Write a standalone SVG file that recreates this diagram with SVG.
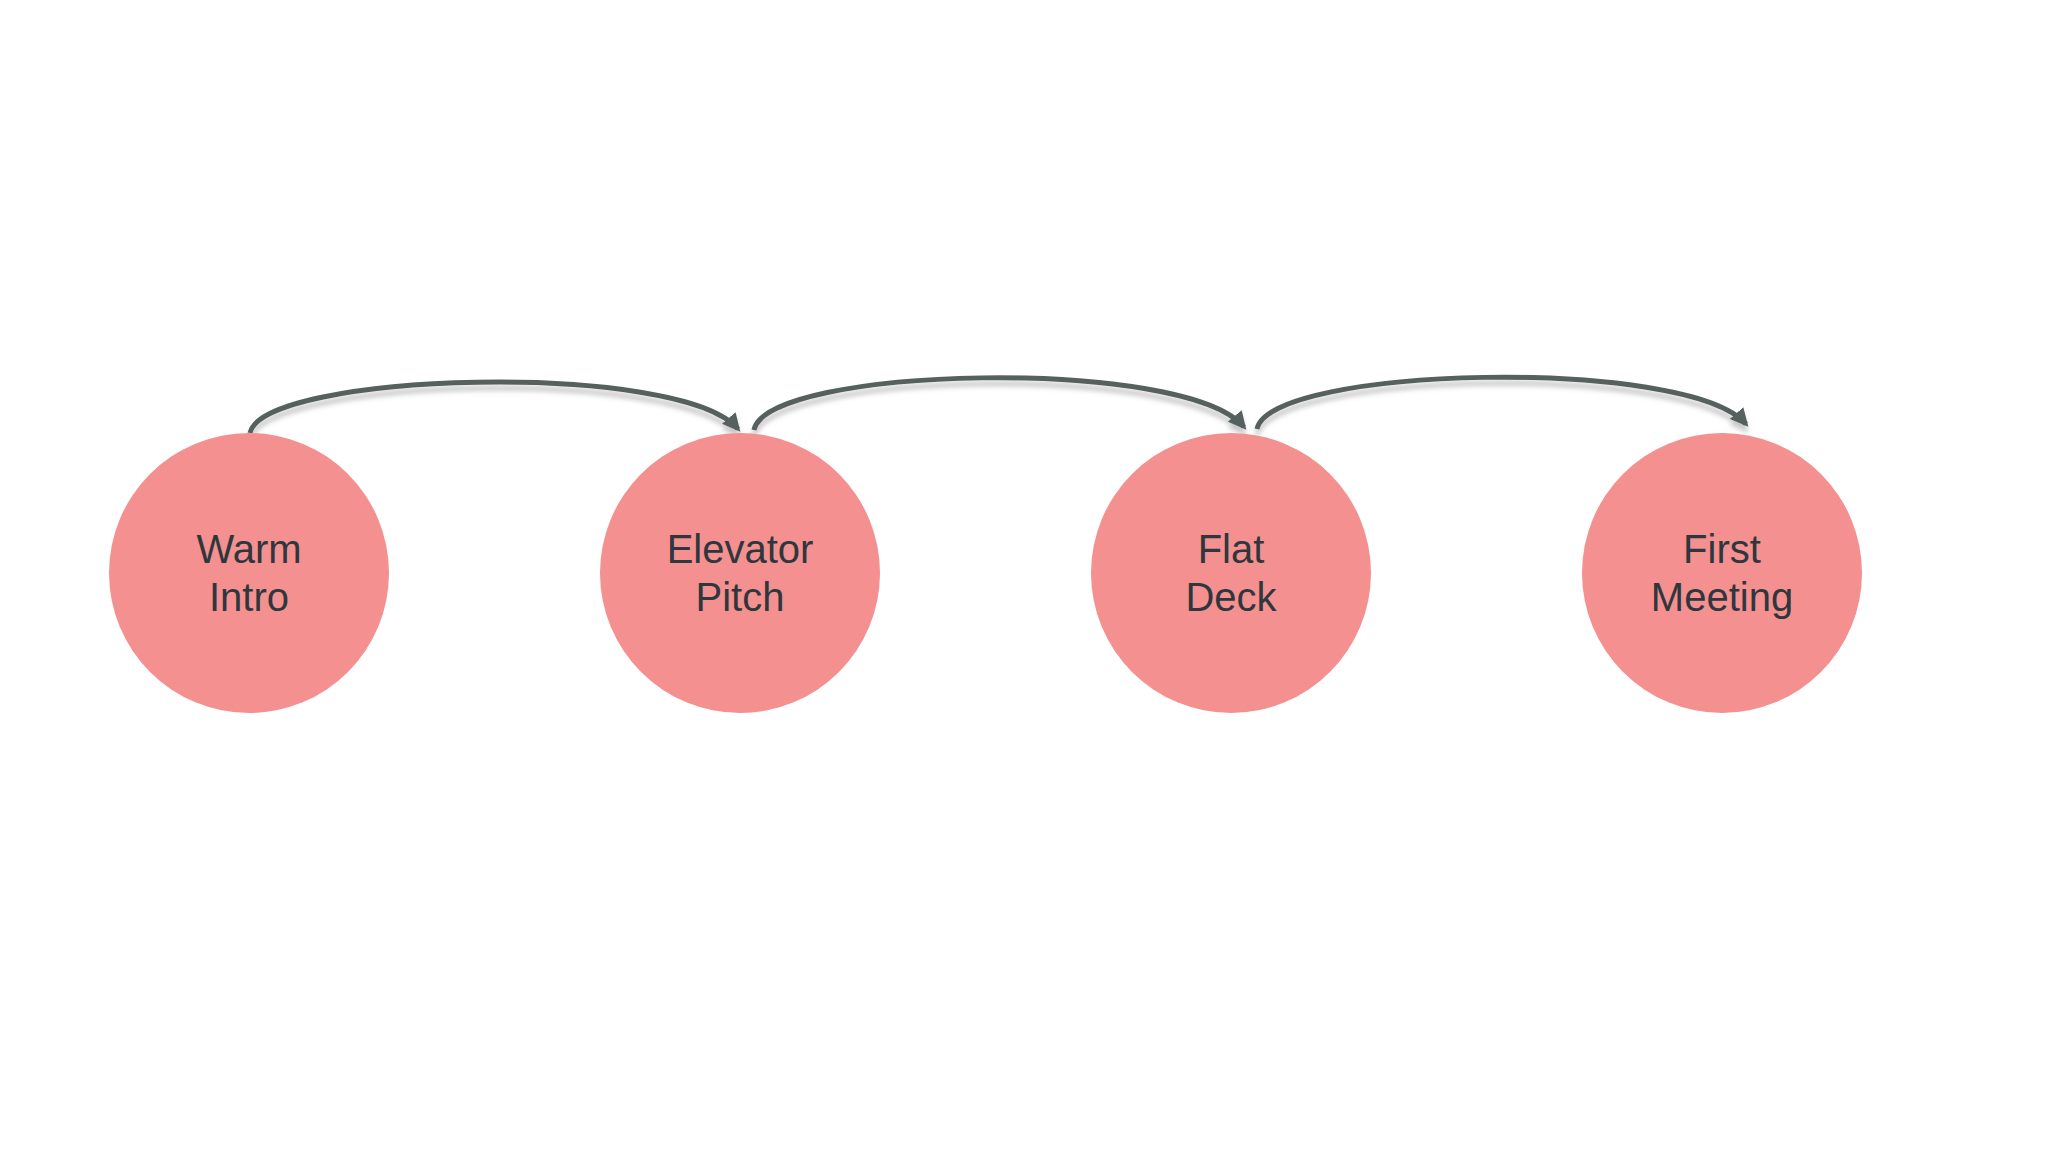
<svg xmlns="http://www.w3.org/2000/svg" width="2048" height="1152" viewBox="0 0 2048 1152">
<style>
.node circle{fill:#F4908F;}
.node text{font-family:"Liberation Sans",Arial,sans-serif;font-size:40px;fill:#2E373D;text-anchor:middle;}
.edge{fill:none;stroke:#56605F;stroke-width:5;marker-end:url(#arrow);filter:url(#shadow);}
</style>
<defs>
<marker id="arrow" viewBox="0 0 10 10" refX="8" refY="5" markerWidth="3.6" markerHeight="3.6" orient="auto" markerUnits="strokeWidth">
<path d="M0,0 L10,5 L0,10 Z" fill="#56605F"/>
</marker>
<filter id="shadow" x="-10%" y="-50%" width="120%" height="200%">
<feDropShadow dx="0" dy="6" stdDeviation="2.5" flood-color="#9a9a9a" flood-opacity="0.55"/>
</filter>
</defs>
<rect width="2048" height="1152" fill="#FFFFFF"/>
<g id="connectors">
<path class="edge" d="M250,433 C262,372 680,360 738,429"/>
<path class="edge" d="M754,430 C766,366 1185,356 1244,427"/>
<path class="edge" d="M1257,429 C1269,366 1687,356 1746,424"/>
</g>
<g id="node-warm-intro" class="node">
<circle cx="249" cy="573" r="140"/>
<text x="249" y="563">Warm</text>
<text x="249" y="611">Intro</text>
</g>
<g id="node-elevator-pitch" class="node">
<circle cx="740" cy="573" r="140"/>
<text x="740" y="563">Elevator</text>
<text x="740" y="611">Pitch</text>
</g>
<g id="node-flat-deck" class="node">
<circle cx="1231" cy="573" r="140"/>
<text x="1231" y="563">Flat</text>
<text x="1231" y="611">Deck</text>
</g>
<g id="node-first-meeting" class="node">
<circle cx="1722" cy="573" r="140"/>
<text x="1722" y="563">First</text>
<text x="1722" y="611">Meeting</text>
</g>
</svg>
